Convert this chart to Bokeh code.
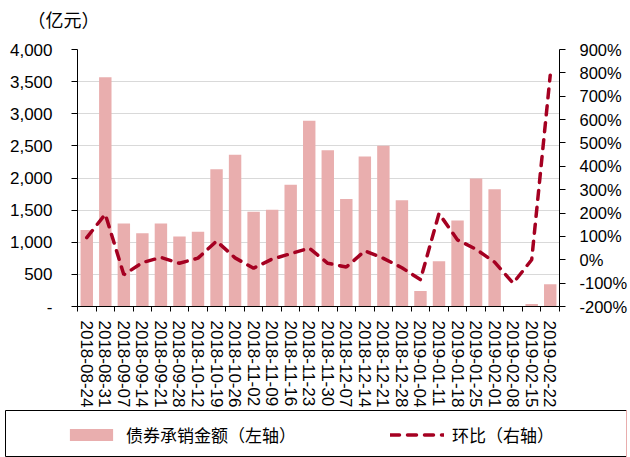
from bokeh.plotting import figure
from bokeh.models import (ColumnDataSource, Range1d, LinearAxis, FixedTicker,
                          NumeralTickFormatter, PrintfTickFormatter, Legend,
                          LegendItem, Label)
from bokeh.layouts import column
from bokeh.embed import file_html
from bokeh.resources import INLINE

# ---------------- data ----------------
dates = ["2018-08-24", "2018-08-31", "2018-09-07", "2018-09-14", "2018-09-21",
         "2018-09-28", "2018-10-12", "2018-10-19", "2018-10-26", "2018-11-02",
         "2018-11-09", "2018-11-16", "2018-11-23", "2018-11-30", "2018-12-07",
         "2018-12-14", "2018-12-21", "2018-12-28", "2019-01-04", "2019-01-11",
         "2019-01-18", "2019-01-25", "2019-02-01", "2019-02-08", "2019-02-15",
         "2019-02-22"]
amount = [1190, 3570, 1290, 1140, 1290, 1090, 1165, 2135, 2360, 1476,
          1507, 1895, 2892, 2432, 1675, 2334, 2503, 1655, 240, 705,
          1338, 1992, 1824, 0, 40, 348]
mom = [95, 195, -64, -12, 10, -15, 7, 80, 8, -36,
       3, 26, 50, -15, -31, 38, 6, -34, -85, 198,
       85, 45, -10, -100, 0, 790]
left_ticks = [0, 500, 1000, 1500, 2000, 2500, 3000, 3500, 4000]
right_ticks = [-200, -100, 0, 100, 200, 300, 400, 500, 600, 700, 800, 900]
unit_label = "（亿元）"
bar_label = "债券承销金额（左轴）"
line_label = "环比（右轴）"

BAR = "#E9AEAE"
LINE = "#A50021"
GRID = "#D9D9D9"
NUM_FONT = "Liberation Sans"
CJK = "Noto Sans CJK SC"

idx = list(range(len(dates)))
src = ColumnDataSource(dict(x=idx, date=dates, amount=amount, mom=mom))


def blank_figure(height, **borders):
    f = figure(width=630, height=height,
               x_range=Range1d(-100, -99), y_range=Range1d(0, 1),
               toolbar_location=None, output_backend="svg",
               x_axis_type=None, y_axis_type=None, **borders)
    f.frame_align = False
    f.outline_line_color = None
    f.background_fill_color = "white"
    f.xgrid.visible = False
    f.ygrid.visible = False
    return f


# ---------------- unit label strip ----------------
head = blank_figure(30, min_border_left=0, min_border_right=0,
                    min_border_top=0, min_border_bottom=0)
head.add_layout(Label(x=27, y=12, x_units="screen", y_units="screen",
                      text=unit_label, text_font=CJK, text_font_size="18px",
                      text_baseline="middle", text_align="left",
                      text_color="black"))

# ---------------- main chart ----------------
p = figure(width=630, height=380,
           x_range=Range1d(-0.5, len(dates) - 0.5),
           y_range=Range1d(left_ticks[0], left_ticks[-1]),
           toolbar_location=None, output_backend="svg",
           min_border_left=77, min_border_right=70,
           min_border_top=19, min_border_bottom=100)
p.frame_align = False
p.outline_line_color = None
p.background_fill_color = "white"
p.extra_y_ranges = {"pct": Range1d(right_ticks[0], right_ticks[-1])}

bar_style = dict(fill_color=BAR, line_color=None)
line_style = dict(line_color=LINE, line_width=3.5, line_dash="9 8", line_cap="round")

p.vbar(x="x", top="amount", width=0.67, source=src, **bar_style)
p.line(x="x", y="mom", source=src, y_range_name="pct", **line_style)

# x axis: labels at category centres, ticks between categories
xa = p.xaxis[0]
xa.ticker = FixedTicker(ticks=idx, minor_ticks=[i - 0.5 for i in range(len(dates) + 1)])
xa.major_label_overrides = {i: d for i, d in enumerate(dates)}
xa.major_label_orientation = "vertical"
xa.major_tick_out = 0
xa.major_tick_in = 0
xa.minor_tick_out = 5
xa.minor_tick_in = 0
xa.minor_tick_line_color = "black"
xa.axis_line_color = "black"
xa.major_label_standoff = 9
xa.major_label_text_font = NUM_FONT
xa.major_label_text_font_size = "17px"
xa.major_label_text_color = "black"

# left axis
ya = p.yaxis[0]
ya.ticker = FixedTicker(ticks=left_ticks)
ya.formatter = NumeralTickFormatter(format="0,0")
ya.major_label_overrides = {0: "-"}
ya.major_tick_out = 6
ya.major_tick_in = 0
ya.minor_tick_line_color = None
ya.axis_line_color = "black"
ya.major_tick_line_color = "black"
ya.major_label_standoff = 19
ya.major_label_text_font = NUM_FONT
ya.major_label_text_font_size = "17px"
ya.major_label_text_color = "black"

# right axis
ra = LinearAxis(y_range_name="pct", ticker=FixedTicker(ticks=right_ticks),
                formatter=PrintfTickFormatter(format="%d%%"))
ra.major_tick_out = 6
ra.major_tick_in = 0
ra.minor_tick_line_color = None
ra.axis_line_color = "black"
ra.major_tick_line_color = "black"
ra.major_label_standoff = 14
ra.major_label_text_font = NUM_FONT
ra.major_label_text_font_size = "16.5px"
ra.major_label_text_color = "black"
p.add_layout(ra, "right")

p.xgrid.visible = False
p.ygrid[0].ticker = FixedTicker(ticks=left_ticks)
p.ygrid.grid_line_color = GRID
p.ygrid.grid_line_width = 1

# ---------------- legend box ----------------
lg = blank_figure(47, min_border_left=5, min_border_right=4,
                  min_border_top=0, min_border_bottom=0)
lg.outline_line_color = "black"
lg.outline_line_width = 1
# legend proxies share the chart's data; the ranges keep them off-frame
r1 = lg.vbar(x="x", top="amount", width=0.67, source=src, **bar_style)
r2 = lg.line(x="x", y="mom", source=src, **line_style)
legend = Legend(items=[LegendItem(label=bar_label, renderers=[r1]),
                       LegendItem(label=line_label, renderers=[r2])],
                location=(59, 10), orientation="horizontal",
                border_line_color=None, background_fill_alpha=0,
                padding=0, margin=0, glyph_width=54, glyph_height=15,
                label_standoff=8, spacing=94,
                label_text_font=CJK, label_text_font_size="17px",
                label_text_color="black")
lg.add_layout(legend)

layout = column(head, p, lg, spacing=0)
open("out.html", "w").write(file_html(layout, INLINE))
